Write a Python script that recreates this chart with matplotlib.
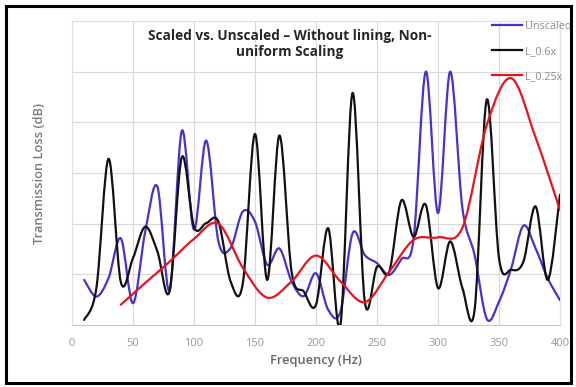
import numpy as np
import matplotlib
matplotlib.use("Agg")
import matplotlib.pyplot as plt
from matplotlib.path import Path
from matplotlib.patches import PathPatch, Rectangle
from matplotlib.lines import Line2D

plt.rcParams['font.family'] = ['Open Sans', 'DejaVu Sans']

# ---- data ----
freq_unscaled = [10, 20, 30, 40, 50, 60, 70, 80, 90, 100, 110, 120, 130, 140, 150, 160, 170, 180, 190, 200,
                 210, 220, 230, 240, 250, 260, 270, 280, 290, 300, 310, 320, 330, 340, 350, 360, 370, 380, 390, 400]
tl_unscaled = [0.89, 0.56, 0.93, 1.71, 0.43, 1.84, 2.73, 0.69, 3.83, 1.88, 3.64, 1.65, 1.52, 2.24, 2.04, 1.19, 1.51, 0.86, 0.57, 1.02,
               0.30, 0.26, 1.81, 1.38, 1.22, 0.99, 1.30, 1.70, 5.00, 2.21, 5.00, 2.31, 1.38, 0.12, 0.46, 1.12, 1.96, 1.51, 0.92, 0.49]

freq_06 = [10, 20, 30, 40, 50, 60, 70, 80, 90, 100, 110, 120, 130, 140, 150, 160, 170, 180, 190, 200,
           210, 220, 230, 240, 250, 260, 270, 280, 290, 300, 310, 320, 330, 340, 350, 360, 370, 380, 390, 400]
tl_06 = [0.10, 0.73, 3.28, 0.85, 1.32, 1.94, 1.45, 0.67, 3.31, 1.94, 2.01, 2.04, 0.86, 0.82, 3.77, 0.89, 3.74, 1.05, 0.66, 0.40,
         1.91, 0.00, 4.58, 0.46, 1.15, 1.05, 2.46, 1.74, 2.37, 0.73, 1.65, 0.73, 0.30, 4.45, 1.32, 1.09, 1.25, 2.34, 0.89, 2.57]

freq_025 = [40, 60, 80, 100, 120, 140, 160, 180, 200, 220, 240, 260, 280, 300, 320, 340, 360, 380, 400]
tl_025 = [0.40, 0.83, 1.25, 1.70, 2.00, 1.13, 0.54, 0.86, 1.37, 0.86, 0.45, 1.05, 1.68, 1.73, 1.92, 3.95, 4.87, 3.70, 2.27]

series_names = ["Unscaled", "L_0.6x", "L_0.25x"]
x_ticks = [0, 50, 100, 150, 200, 250, 300, 350, 400]

colors = ["#4633cc", "#111111", "#e8141c"]


def smooth_path(xs, ys):
    """Excel-style smoothed line through the points (cubic Bezier segments)."""
    pts = np.column_stack([xs, ys]).astype(float)
    n = len(pts)
    verts = [pts[0]]
    codes = [Path.MOVETO]
    for i in range(n - 1):
        p0 = pts[i - 1] if i > 0 else pts[i]
        p1 = pts[i]
        p2 = pts[i + 1]
        p3 = pts[i + 2] if i + 2 < n else pts[i + 1]
        c1 = p1 + (p2 - p0) / 6.0
        c2 = p2 - (p3 - p1) / 6.0
        verts += [c1, c2, p2]
        codes += [Path.CURVE4] * 3
    return Path(verts, codes)


fig = plt.figure(figsize=(5.76, 3.87), dpi=100)
ax = fig.add_axes([72 / 576, 62 / 387, 488 / 576, 304 / 387])

data = [(freq_unscaled, tl_unscaled), (freq_06, tl_06), (freq_025, tl_025)]
for (xs, ys), c in zip(data, colors):
    patch = PathPatch(smooth_path(xs, ys), facecolor='none', edgecolor=c, lw=1.6,
                      capstyle='round', joinstyle='round', zorder=3)
    ax.add_patch(patch)

ax.set_xlim(0, 400)
ax.set_ylim(0, 6)
ax.set_xticks(x_ticks)
ax.set_xticklabels([str(t) for t in x_ticks])
ax.set_yticks([0, 1, 2, 3, 4, 5, 6])
ax.set_yticklabels([])
ax.tick_params(axis='both', length=0, colors='#a6a6a6', labelsize=8, pad=9)
ax.tick_params(axis='x', labelcolor='#999999')
ax.grid(True, color='#d9d9d9', lw=0.8, zorder=0)
ax.set_axisbelow(True)
for s in ax.spines.values():
    s.set_color('#e0e0e0')
    s.set_linewidth(0.8)
ax.spines['bottom'].set_color('#c8c8c8')

ax.set_xlabel("Frequency (Hz)", fontsize=9.3, color='#666666', fontweight='semibold', labelpad=4)
ax.set_ylabel("Transmission Loss (dB)", fontsize=9.3, color='#7a7a7a', fontweight='semibold', labelpad=10)

fig.text(290 / 576, 1 - 44 / 387, "Scaled vs. Unscaled \u2013 Without lining, Non-\nuniform Scaling",
         ha='center', va='center', fontsize=9.8, fontweight='bold', color='#262626', linespacing=1.1)

handles = [Line2D([], [], color=c, lw=1.6) for c in colors]
leg = fig.legend(handles, series_names, loc='upper left', bbox_to_anchor=(492 / 576, 1 - 21 / 387),
                 frameon=False, fontsize=7.8, handlelength=2.8, handletextpad=0.2,
                 labelspacing=1.3, borderpad=0, borderaxespad=0)
for t in leg.get_texts():
    t.set_color('#8c8c8c')

fig.patches.append(Rectangle((6 / 576, 4 / 387), 565 / 576, 377 / 387, transform=fig.transFigure,
                             fill=False, edgecolor='black', lw=2.2, zorder=10))

fig.savefig("out.png", dpi=100)
